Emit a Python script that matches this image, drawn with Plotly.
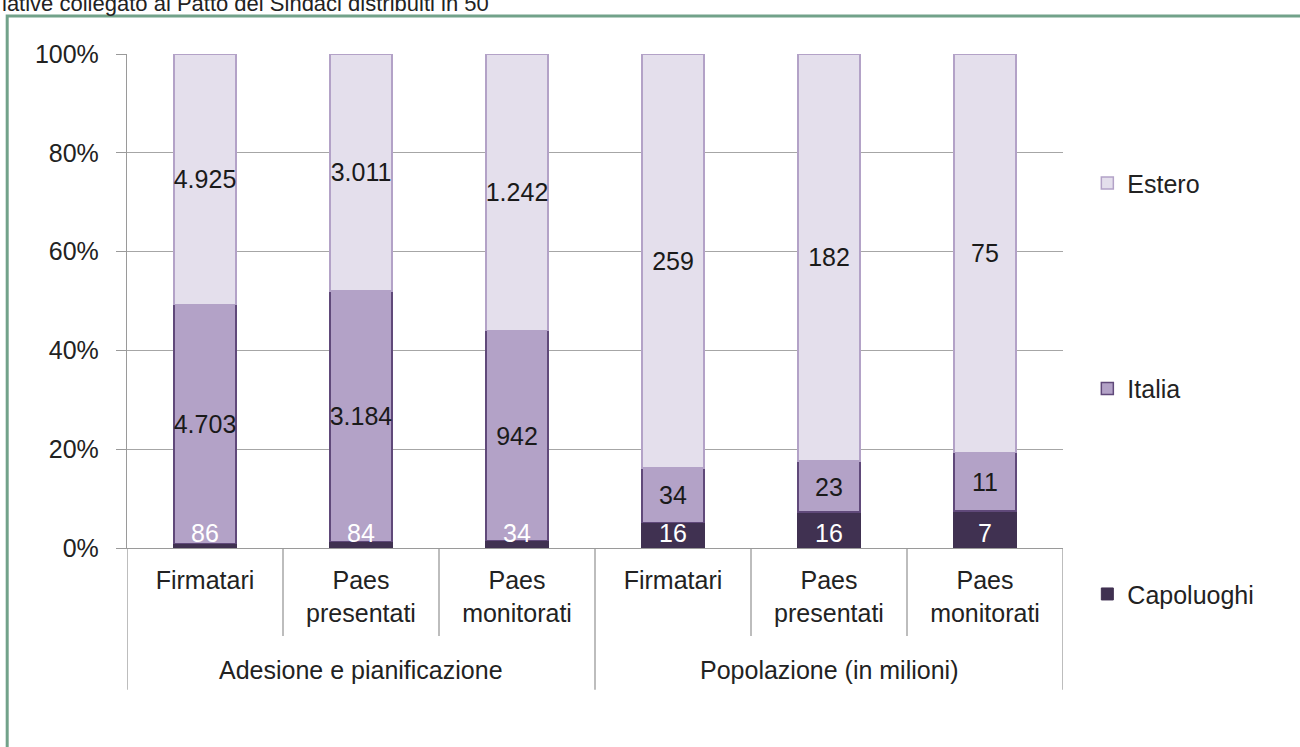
import plotly.graph_objects as go

# Categorie
gruppi = ['Adesione e pianificazione', 'Popolazione (in milioni)']
voci = ['Firmatari', 'Paes<br>presentati', 'Paes<br>monitorati',
        'Firmatari', 'Paes<br>presentati', 'Paes<br>monitorati']
asse_y = [0, 20, 40, 60, 80, 100]
asse_y_txt = ['0%', '20%', '40%', '60%', '80%', '100%']

# Valori (numero di comuni / milioni di abitanti)
capoluoghi = [86, 84, 34, 16, 16, 7]
italia = [4703, 3184, 942, 34, 23, 11]
estero = [4925, 3011, 1242, 259, 182, 75]


def fmt(v):
    # separatore delle migliaia all'italiana
    return f'{v:,}'.replace(',', '.')


FONT = 'Liberation Sans Narrow, Arial Narrow, Liberation Sans, Arial, sans-serif'
FS = 25
x = list(range(len(voci)))

fig = go.Figure()

fig.add_trace(go.Bar(
    x=x, y=capoluoghi, name='Capoluoghi', legendgroup='c', legendrank=3,
    textposition='none', hoverinfo='skip',
    marker=dict(color='#403151', line=dict(color='#403151', width=1)),
))
fig.add_trace(go.Bar(
    x=x, y=italia, name='Italia', legendgroup='i', legendrank=2,
    text=[fmt(v) for v in italia], textposition='inside', textangle=0,
    insidetextanchor='middle', constraintext='none',
    textfont=dict(color='#1a1a1a', size=FS, family=FONT),
    marker=dict(color='#B3A2C7', line=dict(color='#60497A', width=1.5)),
))
fig.add_trace(go.Bar(
    x=x, y=estero, name='Estero', legendgroup='e', legendrank=1,
    text=[fmt(v) for v in estero], textposition='inside', textangle=0,
    insidetextanchor='middle', constraintext='none',
    textfont=dict(color='#1a1a1a', size=FS, family=FONT),
    marker=dict(color='#E4DFEC', line=dict(color='#B3A2C7', width=1.5)),
))
# etichette dei capoluoghi sopra le barre
fig.add_trace(go.Scatter(
    x=x, y=[0] * len(x), mode='text', text=[fmt(v) for v in capoluoghi],
    textposition='top center', showlegend=False, hoverinfo='skip',
    textfont=dict(color='white', size=FS, family=FONT),
))

# separatori delle categorie sotto l'asse
for b in [-0.5, 2.5, 5.5]:
    fig.add_shape(type='line', xref='x', yref='paper', x0=b, x1=b, y0=0, y1=-0.287,
                  line=dict(color='#9a9a9a', width=1.3))
for b in [0.5, 1.5, 3.5, 4.5]:
    fig.add_shape(type='line', xref='x', yref='paper', x0=b, x1=b, y0=0, y1=-0.178,
                  line=dict(color='#9a9a9a', width=1.3))

# cornice verde
fig.add_shape(type='rect', xref='paper', yref='paper', x0=-0.128, x1=1.3, y0=-0.6, y1=1.077,
              line=dict(color='#72A28A', width=3), layer='below')

for g, cx in zip(gruppi, [1, 4]):
    fig.add_annotation(x=cx, xref='x', y=-0.247, yref='paper', text=g, showarrow=False,
                       yanchor='middle', font=dict(size=FS, family=FONT, color='#222'))

fig.add_annotation(x=-0.1357, xref='paper', y=1.103, yref='paper', xanchor='left', yanchor='middle',
                   text='lative collegato al Patto dei Sindaci distribuiti in 50', showarrow=False,
                   font=dict(size=22, family='Liberation Sans, Arial, sans-serif', color='#222'))

fig.update_layout(
    barmode='stack', barnorm='percent', bargap=0.6,
    width=1300, height=747,
    margin=dict(l=127, r=237, t=54, b=199),
    plot_bgcolor='white', paper_bgcolor='white',
    font=dict(family=FONT, size=FS, color='#222'),
    legend=dict(x=1.026, y=0.785, xanchor='left', yanchor='top',
                traceorder='grouped', tracegroupgap=170,
                font=dict(size=FS, family=FONT, color='#222')),
)
fig.update_yaxes(range=[0, 100], tickvals=asse_y, ticktext=asse_y_txt,
                 showgrid=True, gridcolor='#a6a6a6', gridwidth=1.3,
                 showline=True, linecolor='#9a9a9a', linewidth=1.3,
                 ticks='outside', ticklen=10, tickcolor='#9a9a9a',
                 ticklabelstandoff=12, zeroline=False)
fig.update_xaxes(range=[-0.5, 5.5], tickvals=x, ticktext=voci,
                 showgrid=False, zeroline=False, showline=True,
                 linecolor='#9a9a9a', linewidth=1.3, ticks='', ticklabelstandoff=10)

fig.write_html("out.html", config={'displayModeBar': False},
               post_script="document.body.style.margin='0';")
